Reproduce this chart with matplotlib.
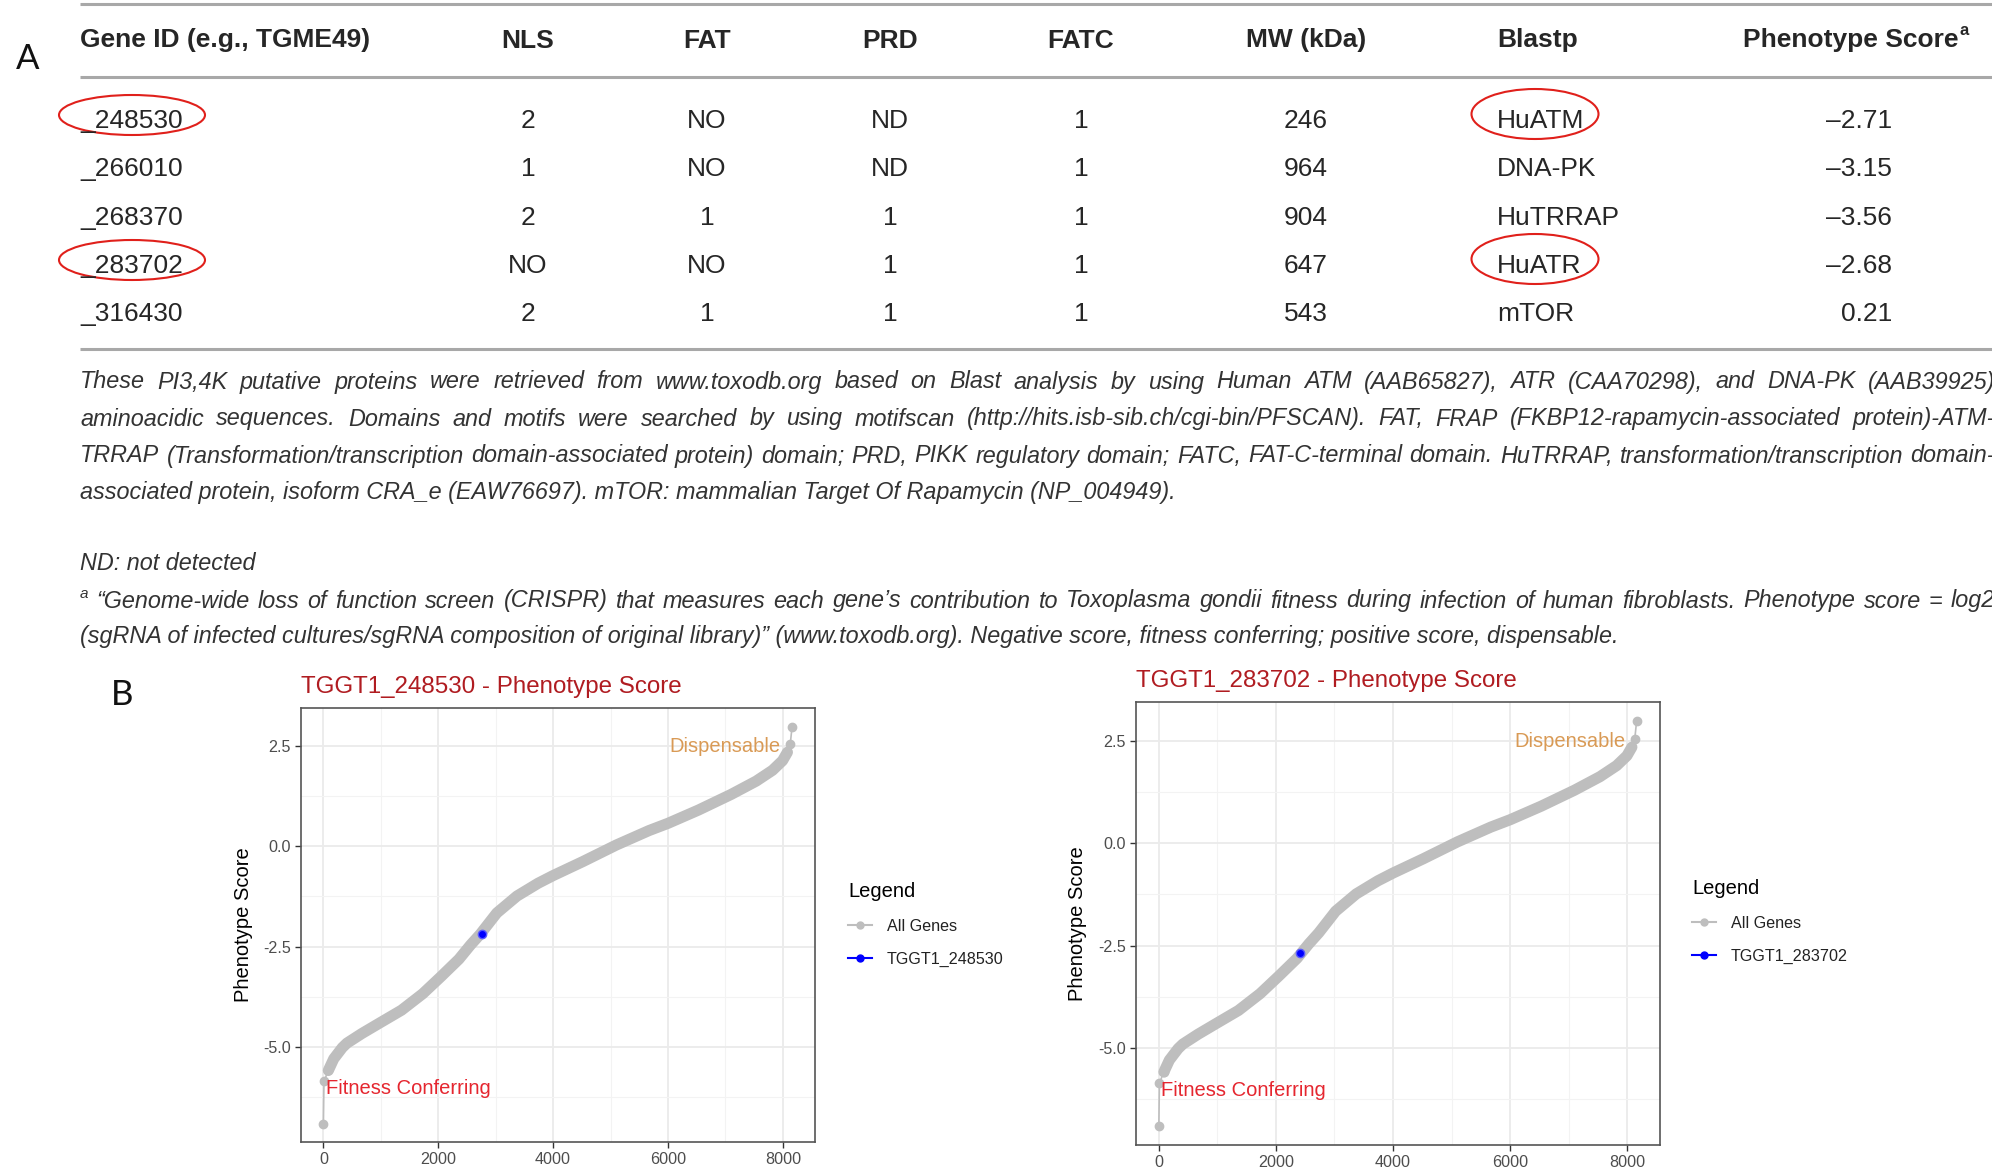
import matplotlib
matplotlib.use('Agg')
import matplotlib.pyplot as plt
from matplotlib.lines import Line2D
from matplotlib.patches import Ellipse

plt.rcParams['font.family'] = ['Liberation Sans', 'DejaVu Sans']
plt.rcParams['axes.unicode_minus'] = False

# ---- panel A: table ----
columns = ['Gene ID (e.g., TGME49)', 'NLS', 'FAT', 'PRD', 'FATC', 'MW (kDa)', 'Blastp', 'Phenotype Score']
gene_ids = ['_248530', '_266010', '_268370', '_283702', '_316430']
nls = ['2', '1', '2', 'NO', '2']
fat = ['NO', 'NO', '1', 'NO', '1']
prd = ['ND', 'ND', '1', '1', '1']
fatc = ['1', '1', '1', '1', '1']
mw_kda = [246, 964, 904, 647, 543]
blastp = ['HuATM', 'DNA-PK', 'HuTRRAP', 'HuATR', 'mTOR']
pheno_score = [-2.71, -3.15, -3.56, -2.68, 0.21]
circled = ['_248530', '_283702']

caption_lines = [
    'These PI3,4K putative proteins were retrieved from www.toxodb.org based on Blast analysis by using Human ATM (AAB65827), ATR (CAA70298), and DNA-PK (AAB39925)',
    'aminoacidic sequences. Domains and motifs were searched by using motifscan (http://hits.isb-sib.ch/cgi-bin/PFSCAN). FAT, FRAP (FKBP12-rapamycin-associated protein)-ATM-',
    'TRRAP (Transformation/transcription domain-associated protein) domain; PRD, PIKK regulatory domain; FATC, FAT-C-terminal domain. HuTRRAP, transformation/transcription domain-',
    'associated protein, isoform CRA_e (EAW76697). mTOR: mammalian Target Of Rapamycin (NP_004949).',
]
nd_note = 'ND: not detected'
footnote_lines = [
    '\u201cGenome-wide loss of function screen (CRISPR) that measures each gene\u2019s contribution to Toxoplasma gondii fitness during infection of human fibroblasts. Phenotype score = log2',
    '(sgRNA of infected cultures/sgRNA composition of original library)\u201d (www.toxodb.org). Negative score, fitness conferring; positive score, dispensable.',
]

# ---- panel B: all genes ranked by phenotype score ----
gene_rank = [0, 10, 86, 180, 330, 410, 670, 990, 1360, 1730, 2050, 2360, 2560, 2730,
             3020, 3370, 3740, 4000, 4520, 5100, 5670, 6000, 6530, 7100, 7535, 7820,
             7995, 8080, 8130, 8160]
gene_score = [-6.90, -5.85, -5.58, -5.29, -5.01, -4.90, -4.66, -4.39, -4.08, -3.67, -3.24,
              -2.81, -2.46, -2.19, -1.66, -1.24, -0.92, -0.73, -0.38, 0.03, 0.39, 0.57,
              0.90, 1.29, 1.62, 1.89, 2.13, 2.34, 2.55, 2.97]
panel_genes = ['TGGT1_248530', 'TGGT1_283702']
hit_rank = [2754, 2415]
hit_score = [-2.18, -2.69]

W, H = 1992, 1170
fig = plt.figure(figsize=(W / 100, H / 100), dpi=100)
ax0 = fig.add_axes([0, 0, 1, 1])
ax0.set_xlim(0, W)
ax0.set_ylim(H, 0)
ax0.axis('off')
renderer = fig.canvas.get_renderer()

dark = '#262626'
fs_tab = 19

for y in (4, 77, 349):
    ax0.plot([80, W], [y, y], color='#A8A8A8', lw=2.2, solid_capstyle='butt')

# header
hy = 40.5
ax0.text(80, hy, columns[0], ha='left', va='center', fontsize=fs_tab, fontweight='bold', color=dark)
col_x = [528, 707, 890, 1081, 1306]
for name, x in zip(columns[1:6], col_x):
    ax0.text(x, hy, name, ha='center', va='center', fontsize=fs_tab, fontweight='bold', color=dark)
ax0.text(1497, hy, columns[6], ha='left', va='center', fontsize=fs_tab, fontweight='bold', color=dark)
ph = ax0.text(1743, hy, columns[7], ha='left', va='center', fontsize=fs_tab, fontweight='bold', color=dark)
ph_right = ph.get_window_extent(renderer).x1
ax0.text(ph_right + 1, hy - 10, 'a', ha='left', va='center', fontsize=12, fontweight='bold', color=dark)

# rows
row_y = [121, 169, 218, 266, 314]
for i, y in enumerate(row_y):
    ax0.text(80, y, gene_ids[i], ha='left', va='center', fontsize=fs_tab, color=dark)
    for vals, x in zip([nls, fat, prd, fatc, mw_kda], col_x):
        ax0.text(x, y, str(vals[i]), ha='center', va='center', fontsize=fs_tab, color=dark)
    ax0.text(1497, y, blastp[i], ha='left', va='center', fontsize=fs_tab, color=dark)
    ax0.text(1892, y, f'{pheno_score[i]:.2f}'.replace('-', '\u2013'), ha='right', va='center',
             fontsize=fs_tab, color=dark)
    if gene_ids[i] in circled:
        ax0.add_patch(Ellipse((132, y - 6), 146, 40, fill=False, ec='#E0201B', lw=1.5))
        ax0.add_patch(Ellipse((1535, y - 7), 127, 50, fill=False, ec='#E0201B', lw=1.5))

ax0.text(28, 59, 'A', ha='center', va='center', fontsize=25, family=['Lato', 'DejaVu Sans'], color='#111')
ax0.text(122, 695, 'B', ha='center', va='center', fontsize=25, family=['Lato', 'DejaVu Sans'], color='#111')


def justify(text, x0, x1, y, **kw):
    words = text.split(' ')
    arts = [ax0.text(x0, y, w, ha='left', va='center', **kw) for w in words]
    widths = [a.get_window_extent(renderer).width for a in arts]
    gap = (x1 - x0 - sum(widths)) / (len(words) - 1)
    x = x0
    for a, w in zip(arts, widths):
        a.set_x(x)
        x += w + gap


cap_kw = dict(fontsize=16.8, style='italic', color='#333333')
cap_y = [382, 419, 456, 493]
for line, y in zip(caption_lines[:-1], cap_y[:-1]):
    justify(line, 80, 1995, y, **cap_kw)
ax0.text(80, cap_y[-1], caption_lines[-1], ha='left', va='center', **cap_kw)
ax0.text(80, 564, nd_note, ha='left', va='center', **cap_kw)
ax0.text(80, 594, 'a', ha='left', va='center', fontsize=11, style='italic', color='#333333')
justify(footnote_lines[0], 96, 1995, 601, **cap_kw)
ax0.text(80, 637, footnote_lines[1], ha='left', va='center', **cap_kw)


def px_rect(x0, y0, x1, y1):
    return [x0 / W, 1 - y1 / H, (x1 - x0) / W, (y1 - y0) / H]


gray = '#BEBEBE'
boxes = [(301, 708, 815, 1142), (1136, 702, 1660, 1145)]
legend_anchor = [(848, 882), (1692, 879)]

for k, gene in enumerate(panel_genes):
    ax = fig.add_axes(px_rect(*boxes[k]))
    ax.plot(gene_rank, gene_score, color=gray, lw=1.2, zorder=2)
    ax.plot(gene_rank[2:-2], gene_score[2:-2], color=gray, lw=8,
            solid_capstyle='round', solid_joinstyle='round', zorder=2)
    ends = [0, 1, 2, -2, -1]
    ax.plot([gene_rank[i] for i in ends], [gene_score[i] for i in ends], 'o',
            color=gray, ms=6, zorder=3)
    ax.plot(hit_rank[k], hit_score[k], 'o', color='#0000FF', mec='#5a5aff', ms=6, zorder=4)

    ax.text(7965, 2.47, 'Dispensable', ha='right', va='center', color='#D99A55', fontsize=14.5, zorder=5)
    ax.text(45, -6.03, 'Fitness Conferring', ha='left', va='center', color='#E5262F', fontsize=14.5, zorder=5)

    ax.set_xlim(-390, 8560)
    ax.set_ylim(-7.36, 3.44)
    ax.set_xticks([0, 2000, 4000, 6000, 8000])
    ax.set_xticks([1000, 3000, 5000, 7000], minor=True)
    ax.set_yticks([-5, -2.5, 0, 2.5])
    ax.set_yticklabels(['-5.0', '-2.5', '0.0', '2.5'])
    ax.set_yticks([-6.25, -3.75, -1.25, 1.25], minor=True)
    ax.grid(which='major', color='#EBEBEB', lw=1.3)
    ax.grid(which='minor', color='#F3F3F3', lw=0.8)
    ax.set_axisbelow(True)
    ax.tick_params(which='major', length=4.5, width=1, color='#333333',
                   labelcolor='#4D4D4D', labelsize=11.6, pad=3)
    ax.tick_params(which='minor', length=0)
    for s in ax.spines.values():
        s.set_color('#555555')
        s.set_linewidth(1.2)

    ax.set_title(f'{gene} - Phenotype Score', loc='left', color='#B01C21', fontsize=17.4, pad=11)
    ax.set_ylabel('Phenotype Score', fontsize=14.5, color='black')
    ax.yaxis.set_label_coords(-0.093, 0.5)

    handles = [Line2D([], [], color=gray, marker='o', ms=5, lw=1.5),
               Line2D([], [], color='#0000FF', marker='o', ms=5, lw=1.5)]
    leg = ax.legend(handles, ['All Genes', gene], title='Legend', title_fontsize=14.5, fontsize=11.6,
                    frameon=False, loc='upper left', bbox_to_anchor=legend_anchor[k],
                    bbox_transform=ax0.transData, borderpad=0, borderaxespad=0,
                    handlelength=1.5, handletextpad=0.9, labelspacing=1.12, alignment='left')
    for t in leg.get_texts():
        t.set_color('#222222')

fig.savefig('out.png', dpi=100)
